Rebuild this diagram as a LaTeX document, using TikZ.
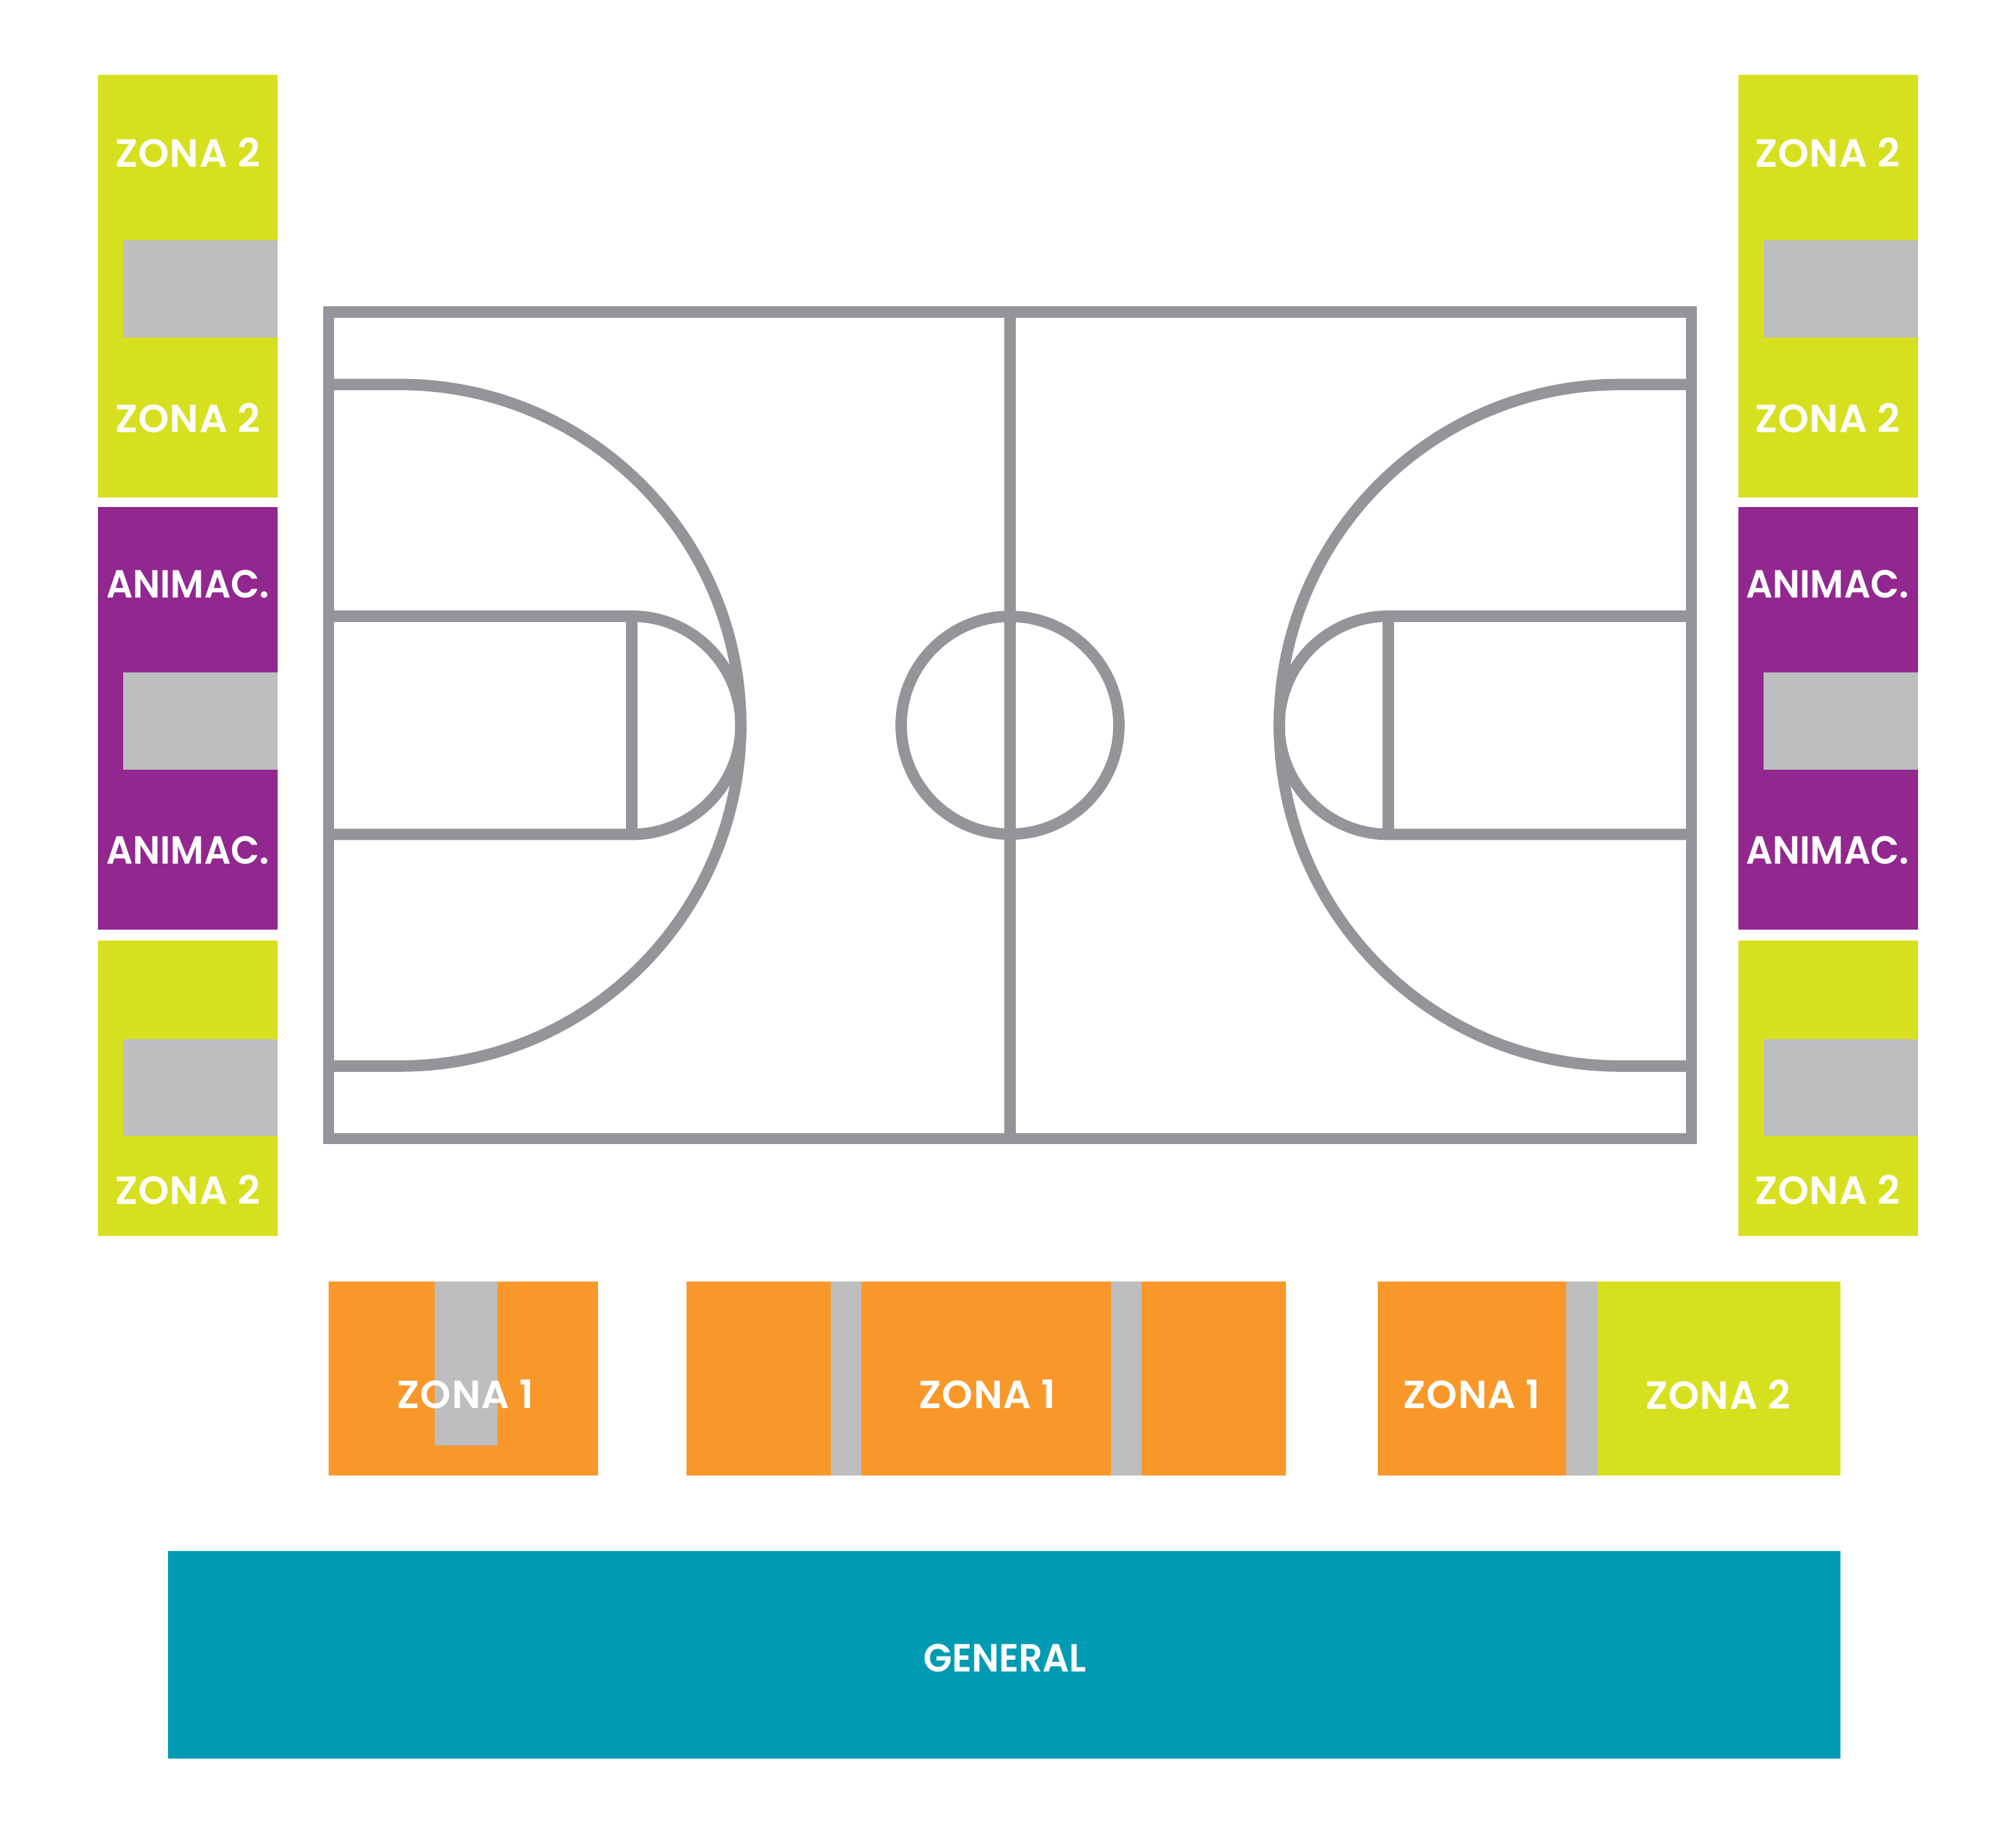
\documentclass[tikz,border=0pt]{standalone}
\usepackage{fontspec}
\setsansfont{Poppins}[BoldFont={Poppins SemiBold}]
\definecolor{CZDOS}{HTML}{D7E01F}
\definecolor{CANIM}{HTML}{92278F}
\definecolor{CPAS}{HTML}{BCBEC0}
\definecolor{CLIN}{HTML}{939598}
\definecolor{CZUNO}{HTML}{F9982A}
\definecolor{CGEN}{HTML}{009BB3}
\tikzset{
  courtline/.style={CLIN,line width=0.168cm},
  zonelabel/.style={text=white,inner sep=0pt,font=\fontsize{16.4pt}{18pt}\selectfont\sffamily\bfseries\addfontfeature{LetterSpace=2}},
  animlabel/.style={text=white,inner sep=0pt,font=\fontsize{16.4pt}{18pt}\selectfont\sffamily\bfseries\addfontfeature{FakeStretch=0.95}},
}

\begin{document}
\begin{tikzpicture}
  \useasboundingbox (0cm,0cm) rectangle (29.63cm,27.08cm);
  \fill[white] (0cm,0cm) rectangle (29.63cm,27.08cm);
  \fill[CZDOS] (1.4400cm,19.7700cm) rectangle (4.0800cm,25.9800cm);
  \fill[CPAS] (1.8100cm,22.1200cm) rectangle (4.0800cm,23.5500cm);
  \fill[CANIM] (1.4400cm,13.4200cm) rectangle (4.0800cm,19.6300cm);
  \fill[CPAS] (1.8100cm,15.7700cm) rectangle (4.0800cm,17.2000cm);
  \fill[CZDOS] (1.4400cm,8.9200cm) rectangle (4.0800cm,13.2600cm);
  \fill[CPAS] (1.8100cm,10.3900cm) rectangle (4.0800cm,11.8100cm);
  \fill[CZDOS] (25.5500cm,19.7700cm) rectangle (28.1900cm,25.9800cm);
  \fill[CPAS] (25.9200cm,22.1200cm) rectangle (28.1900cm,23.5500cm);
  \fill[CANIM] (25.5500cm,13.4200cm) rectangle (28.1900cm,19.6300cm);
  \fill[CPAS] (25.9200cm,15.7700cm) rectangle (28.1900cm,17.2000cm);
  \fill[CZDOS] (25.5500cm,8.9200cm) rectangle (28.1900cm,13.2600cm);
  \fill[CPAS] (25.9200cm,10.3900cm) rectangle (28.1900cm,11.8100cm);
  \draw[courtline] (4.8300cm,10.3500cm) rectangle (24.8600cm,22.4950cm);
  \draw[courtline] (14.8450cm,10.3500cm) -- (14.8450cm,22.4950cm);
  \draw[courtline] (14.8450cm,16.4230cm) circle (1.6000cm);
  \draw[courtline] (4.8300cm,21.4300cm) -- (5.8800cm,21.4300cm) arc[start angle=90,end angle=-90,radius=5.0070cm] -- (4.8300cm,11.4160cm);
  \draw[courtline] (4.8300cm,18.0260cm) -- (9.2870cm,18.0260cm) arc[start angle=90,end angle=-90,radius=1.6030cm] -- (4.8300cm,14.8200cm);
  \draw[courtline] (9.2870cm,14.8200cm) -- (9.2870cm,18.0260cm);
  \draw[courtline] (24.8600cm,21.4300cm) -- (23.8100cm,21.4300cm) arc[start angle=90,end angle=270,radius=5.0070cm] -- (24.8600cm,11.4160cm);
  \draw[courtline] (24.8600cm,18.0260cm) -- (20.4030cm,18.0260cm) arc[start angle=90,end angle=270,radius=1.6030cm] -- (24.8600cm,14.8200cm);
  \draw[courtline] (20.4030cm,14.8200cm) -- (20.4030cm,18.0260cm);
  \fill[CZUNO] (4.8300cm,5.4000cm) rectangle (8.7900cm,8.2500cm);
  \fill[CPAS] (6.3900cm,5.8350cm) rectangle (7.3100cm,8.2500cm);
  \fill[CZUNO] (10.0900cm,5.4000cm) rectangle (18.9000cm,8.2500cm);
  \fill[CPAS] (12.2100cm,5.4000cm) rectangle (12.6600cm,8.2500cm);
  \fill[CPAS] (16.3300cm,5.4000cm) rectangle (16.7800cm,8.2500cm);
  \fill[CZUNO] (20.2500cm,5.4000cm) rectangle (23.0200cm,8.2500cm);
  \fill[CPAS] (23.0200cm,5.4000cm) rectangle (23.4800cm,8.2500cm);
  \fill[CZDOS] (23.4800cm,5.4000cm) rectangle (27.0500cm,8.2500cm);
  \fill[CGEN] (2.4700cm,1.2400cm) rectangle (27.0500cm,4.2900cm);
  \node[zonelabel] (izqa) at (2.7600cm,24.8400cm) {ZONA 2};
  \node[zonelabel] (izqb) at (2.7600cm,20.9400cm) {ZONA 2};
  \node[animlabel] (izqc) at (2.7600cm,18.5000cm) {ANIMAC.};
  \node[animlabel] (izqd) at (2.7600cm,14.5900cm) {ANIMAC.};
  \node[zonelabel] (izqe) at (2.7600cm,9.6000cm) {ZONA 2};
  \node[zonelabel] (dera) at (26.8600cm,24.8400cm) {ZONA 2};
  \node[zonelabel] (derb) at (26.8600cm,20.9400cm) {ZONA 2};
  \node[animlabel] (derc) at (26.8600cm,18.5000cm) {ANIMAC.};
  \node[animlabel] (derd) at (26.8600cm,14.5900cm) {ANIMAC.};
  \node[zonelabel] (dere) at (26.8600cm,9.6000cm) {ZONA 2};
  \node[zonelabel] (fondoa) at (6.8400cm,6.5900cm) {ZONA 1};
  \node[zonelabel] (fondob) at (14.5100cm,6.5900cm) {ZONA 1};
  \node[zonelabel] (fondoc) at (21.6300cm,6.5900cm) {ZONA 1};
  \node[zonelabel] (fondod) at (25.2500cm,6.5900cm) {ZONA 2};
  \node[animlabel] (general) at (14.7700cm,2.7200cm) {GENERAL};
\end{tikzpicture}
\end{document}
